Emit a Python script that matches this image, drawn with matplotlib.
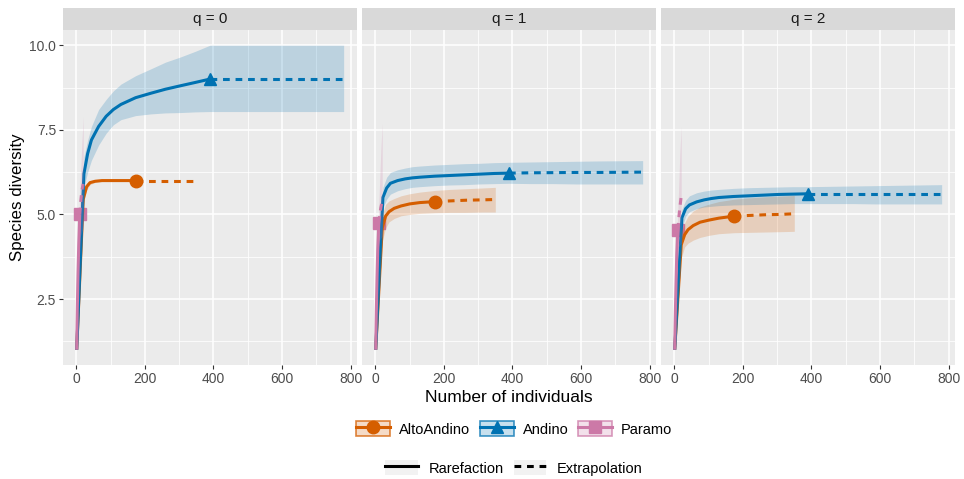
import matplotlib.pyplot as plt
import matplotlib.colors as mcolors
from matplotlib.lines import Line2D
from matplotlib.patches import Patch

plt.rcParams['font.family'] = ['Liberation Sans', 'DejaVu Sans']

# rarefaction / extrapolation curves per site and Hill order q
orders = ['q = 0', 'q = 1', 'q = 2']
sites = ['AltoAndino', 'Andino', 'Paramo']
site_colors = ['#D55E00', '#0072B2', '#CC79A7']
site_markers = ['o', '^', 's']

# AltoAndino: observed n = 175, extrapolated to 350
alto_x = [1, 20, 30, 40, 55, 75, 100, 130, 175, 220, 265, 310, 350]
alto_n = 175
alto_q0 = [1.0, 5.45, 5.82, 5.94, 5.98, 6.0, 6.0, 6.0, 6.0, 6.0, 6.0, 6.0, 6.0]
alto_q0_lo = [1.0, 5.3, 5.72, 5.88, 5.95, 5.98, 5.99, 6.0, 6.0, 6.0, 6.0, 6.0, 6.0]
alto_q0_hi = [1.0, 5.6, 5.92, 6.0, 6.02, 6.02, 6.01, 6.0, 6.0, 6.0, 6.0, 6.0, 6.0]
alto_q1 = [1.0, 4.6, 4.95, 5.08, 5.18, 5.25, 5.31, 5.35, 5.38, 5.4, 5.42, 5.43, 5.44]
alto_q1_lo = [1.0, 4.2, 4.6, 4.78, 4.88, 4.96, 5.0, 5.03, 5.05, 5.06, 5.06, 5.07, 5.07]
alto_q1_hi = [1.0, 5.0, 5.3, 5.4, 5.47, 5.55, 5.61, 5.66, 5.71, 5.74, 5.76, 5.78, 5.8]
alto_q2 = [1.0, 4.1, 4.4, 4.55, 4.67, 4.77, 4.83, 4.89, 4.95, 4.97, 4.99, 5.0, 5.02]
alto_q2_lo = [1.0, 3.7, 4.04, 4.15, 4.24, 4.32, 4.38, 4.43, 4.46, 4.47, 4.48, 4.49, 4.5]
alto_q2_hi = [1.0, 4.5, 4.75, 4.95, 5.1, 5.22, 5.3, 5.38, 5.45, 5.49, 5.52, 5.54, 5.56]

# Andino: observed n = 390, extrapolated to 780
andino_x = [1, 22, 33, 44, 65, 87, 108, 130, 173, 217, 260, 303, 347, 390,
            455, 520, 585, 650, 715, 780]
andino_n = 390
andino_q0 = [1.0, 6.2, 6.8, 7.2, 7.6, 7.9, 8.1, 8.25, 8.45, 8.58, 8.7, 8.8, 8.9, 9.0,
             9.0, 9.0, 9.0, 9.0, 9.0, 9.0]
andino_q0_lo = [1.0, 5.8, 6.25, 6.6, 7.05, 7.4, 7.65, 7.8, 7.92, 7.97, 8.0, 8.01, 8.03, 8.04,
                8.04, 8.04, 8.04, 8.04, 8.04, 8.04]
andino_q0_hi = [1.0, 6.7, 7.2, 7.6, 8.1, 8.4, 8.65, 8.85, 9.1, 9.3, 9.5, 9.65, 9.82, 10.0,
                10.0, 10.0, 10.0, 10.0, 10.0, 10.0]
andino_q1 = [1.0, 5.5, 5.78, 5.92, 6.0, 6.05, 6.08, 6.1, 6.13, 6.15, 6.17, 6.19, 6.21, 6.22,
             6.23, 6.235, 6.24, 6.24, 6.245, 6.25]
andino_q1_lo = [1.0, 5.2, 5.45, 5.6, 5.7, 5.76, 5.8, 5.82, 5.85, 5.87, 5.88, 5.9, 5.91, 5.92,
                5.91, 5.91, 5.9, 5.9, 5.9, 5.9]
andino_q1_hi = [1.0, 5.8, 6.1, 6.24, 6.32, 6.37, 6.41, 6.43, 6.46, 6.48, 6.5, 6.51, 6.53, 6.54,
                6.55, 6.56, 6.57, 6.58, 6.585, 6.59]
andino_q2 = [1.0, 4.9, 5.17, 5.28, 5.37, 5.43, 5.47, 5.5, 5.53, 5.55, 5.57, 5.59, 5.6, 5.61,
             5.61, 5.61, 5.61, 5.61, 5.61, 5.61]
andino_q2_lo = [1.0, 4.6, 4.95, 5.08, 5.17, 5.22, 5.24, 5.26, 5.28, 5.29, 5.3, 5.31, 5.32, 5.32,
                5.32, 5.32, 5.31, 5.31, 5.31, 5.31]
andino_q2_hi = [1.0, 5.15, 5.42, 5.55, 5.64, 5.69, 5.72, 5.74, 5.77, 5.79, 5.8, 5.81, 5.82, 5.82,
                5.83, 5.84, 5.85, 5.86, 5.87, 5.88]

# Paramo: observed n = 10, extrapolated to 20
paramo_x = [1, 3, 5, 7, 10, 13, 16, 20]
paramo_n = 10
paramo_q0 = [1.0, 2.3, 3.3, 4.1, 5.0, 5.4, 5.7, 5.9]
paramo_q0_lo = [1.0, 2.0, 2.9, 3.6, 4.3, 4.4, 4.5, 4.6]
paramo_q0_hi = [1.0, 2.6, 3.7, 4.6, 5.7, 6.4, 7.1, 7.9]
paramo_q1 = [1.0, 2.2, 3.15, 3.95, 4.75, 5.0, 5.2, 5.38]
paramo_q1_lo = [1.0, 1.9, 2.8, 3.5, 4.2, 4.25, 4.3, 4.35]
paramo_q1_hi = [1.0, 2.5, 3.5, 4.4, 5.3, 6.1, 6.9, 7.7]
paramo_q2 = [1.0, 2.1, 3.0, 3.8, 4.55, 4.9, 5.2, 5.53]
paramo_q2_lo = [1.0, 1.8, 2.7, 3.4, 4.0, 4.05, 4.1, 4.15]
paramo_q2_hi = [1.0, 2.4, 3.35, 4.2, 5.1, 5.9, 6.8, 7.6]

site_x = [alto_x, andino_x, paramo_x]
site_n = [alto_n, andino_n, paramo_n]
curves = [
    [(alto_q0, alto_q0_lo, alto_q0_hi), (alto_q1, alto_q1_lo, alto_q1_hi),
     (alto_q2, alto_q2_lo, alto_q2_hi)],
    [(andino_q0, andino_q0_lo, andino_q0_hi), (andino_q1, andino_q1_lo, andino_q1_hi),
     (andino_q2, andino_q2_lo, andino_q2_hi)],
    [(paramo_q0, paramo_q0_lo, paramo_q0_hi), (paramo_q1, paramo_q1_lo, paramo_q1_hi),
     (paramo_q2, paramo_q2_lo, paramo_q2_hi)],
]

W, H = 964, 479
fig = plt.figure(figsize=(W / 100, H / 100), dpi=100)

panel_left = [63, 362, 661]
panel_w = 294
panel_top, panel_bottom = 30, 365
strip_top = 8
dash = (0, (2.2, 1.9))

for k, title in enumerate(orders):
    ax = fig.add_axes([panel_left[k] / W, 1 - panel_bottom / H,
                       panel_w / W, (panel_bottom - panel_top) / H])
    ax.set_facecolor('#EBEBEB')
    for s in ax.spines.values():
        s.set_visible(False)
    ax.set_xlim(-38.95, 818.95)
    ax.set_ylim(0.55, 10.45)
    ax.set_xticks([0, 200, 400, 600, 800])
    ax.set_xticks([100, 300, 500, 700], minor=True)
    ax.set_yticks([2.5, 5.0, 7.5, 10.0])
    ax.set_yticks([1.25, 3.75, 6.25, 8.75], minor=True)
    ax.grid(which='major', color='white', lw=1.1)
    ax.grid(which='minor', color='white', lw=0.55)
    ax.set_axisbelow(True)
    ax.tick_params(which='major', length=3, width=0.8, color='#333333',
                   labelsize=10, labelcolor='#4D4D4D', pad=2)
    ax.tick_params(which='minor', length=0)
    if k == 0:
        ax.set_yticklabels(['2.5', '5.0', '7.5', '10.0'])
    else:
        ax.tick_params(axis='y', length=0, labelleft=False)

    for i in range(len(sites)):
        x = site_x[i]
        mean, lo, hi = curves[i][k]
        c = site_colors[i]
        j = x.index(site_n[i])
        ax.plot(x[:j + 1], mean[:j + 1], color=c, lw=2.2, solid_capstyle='butt', zorder=3)
        ax.plot(x[j:], mean[j:], color=c, lw=2.2, linestyle=dash, zorder=3)
        ax.plot(x[j], mean[j], marker=site_markers[i], color=c, markersize=9,
                linestyle='none', zorder=2)
        ax.fill_between(x, lo, hi, color=c, alpha=0.2, lw=0, zorder=4)

    # facet strip
    sax = fig.add_axes([panel_left[k] / W, 1 - panel_top / H,
                        panel_w / W, (panel_top - strip_top) / H])
    sax.set_facecolor('#D9D9D9')
    sax.set_xticks([])
    sax.set_yticks([])
    for s in sax.spines.values():
        s.set_visible(False)
    sax.text(0.5, 0.5, title, ha='center', va='center', fontsize=11, color='#1A1A1A',
             transform=sax.transAxes)

fig.text(509 / W, 1 - 402 / H, 'Number of individuals', ha='center', va='baseline',
         fontsize=12.5)
fig.text(18 / W, 1 - 197 / H, 'Species diversity', ha='center', va='center',
         rotation=90, fontsize=12.2)

# legends: sites on the first row, method on the second
site_handles = []
for c, m in zip(site_colors, site_markers):
    box = Patch(facecolor=mcolors.to_rgba(c, 0.22), edgecolor=mcolors.to_rgba(c, 0.75), lw=1.2)
    ln = Line2D([], [], color=c, lw=2.2, marker=m, markersize=9)
    site_handles.append((box, ln))
fig.legend(site_handles, sites, loc='center', bbox_to_anchor=(514 / W, 1 - 429 / H),
           ncol=3, frameon=False, fontsize=10.5, numpoints=1, handlelength=2.35,
           handleheight=1.2, handletextpad=0.6, columnspacing=0.65)

key_bg = Patch(facecolor='#F2F2F2', edgecolor='none')
method_handles = [(key_bg, Line2D([], [], color='black', lw=2.2)),
                  (key_bg, Line2D([], [], color='black', lw=2.2, linestyle=dash))]
fig.legend(method_handles, ['Rarefaction', 'Extrapolation'], loc='center',
           bbox_to_anchor=(514 / W, 1 - 468 / H), ncol=2, frameon=False, fontsize=10.5,
           handlelength=2.2, handleheight=1.2, handletextpad=0.75, columnspacing=0.7)

fig.savefig('out.png', dpi=100)
